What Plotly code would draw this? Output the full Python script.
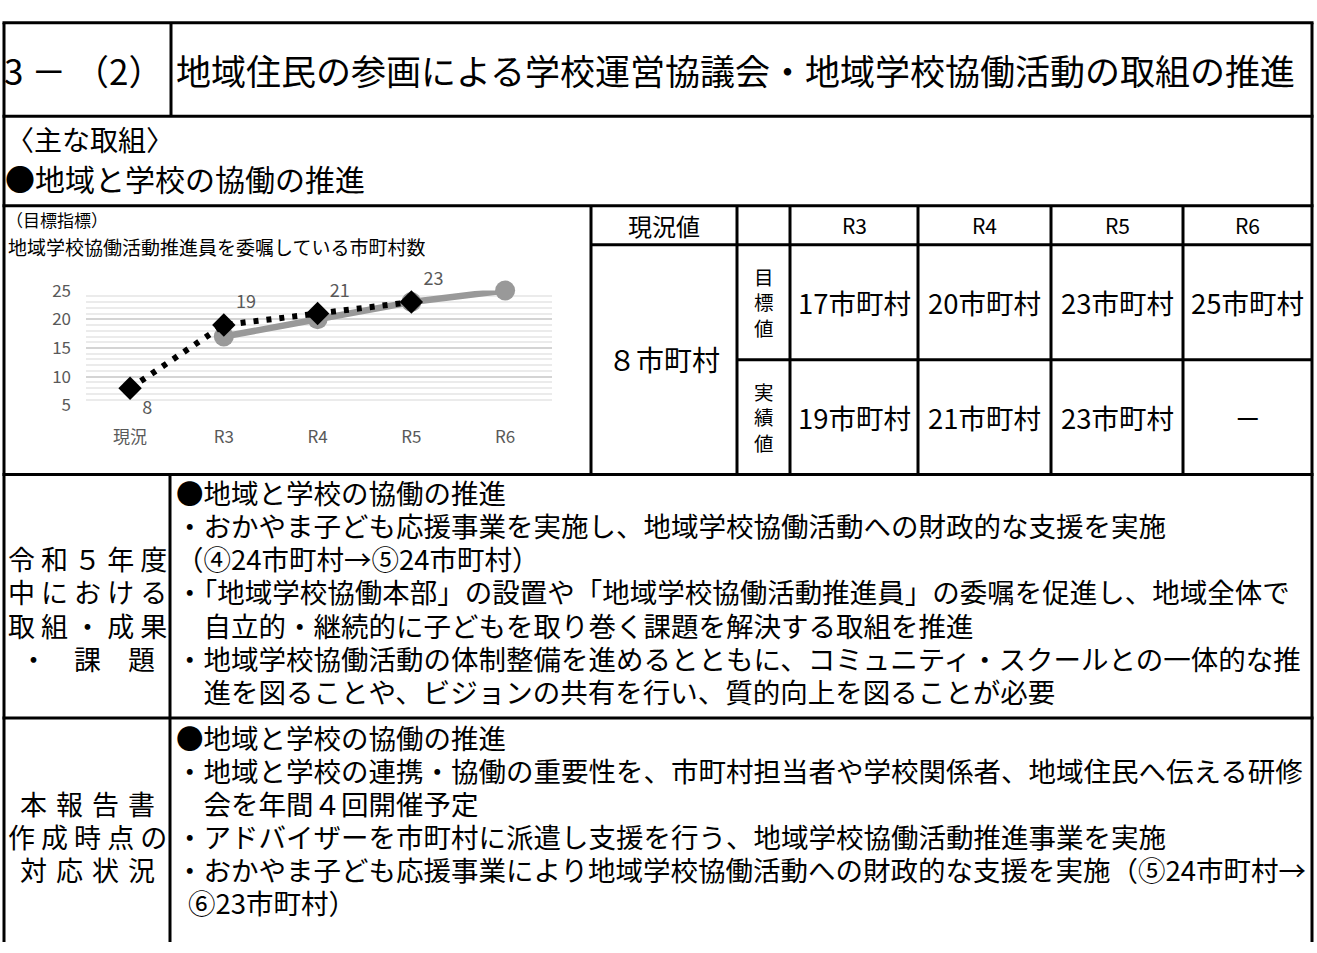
import plotly.graph_objects as go

# ---------------- data ----------------
categories = ["現況", "R3", "R4", "R5", "R6"]
target_values = [None, 17, 20, 23, 25]      # 目標値
actual_values = [8, 19, 21, 23, None]       # 実績値
label_positions = ["bottom right", "top right", "top right", "top right", None]
y_ticks = [5, 10, 15, 20, 25]
unit = "市町村"

title_num = "3 － （2）"
title_text = "地域住民の参画による学校運営協議会・地域学校協働活動の取組の推進"
main_head = "〈主な取組〉"
main_item = "●地域と学校の協働の推進"
chart_note = "（目標指標）"
chart_title = "地域学校協働活動推進員を委嘱している市町村数"

row4_label = ["令 和 ５ 年 度", "中 に お け る", "取 組 ・ 成 果", "・　課　題"]
row4_lines = [
    "●地域と学校の協働の推進",
    "・おかやま子ども応援事業を実施し、地域学校協働活動への財政的な支援を実施",
    "（④24市町村→⑤24市町村）",
    "・「地域学校協働本部」の設置や「地域学校協働活動推進員」の委嘱を促進し、地域全体で",
    "　自立的・継続的に子どもを取り巻く課題を解決する取組を推進",
    "・地域学校協働活動の体制整備を進めるとともに、コミュニティ・スクールとの一体的な推",
    "　進を図ることや、ビジョンの共有を行い、質的向上を図ることが必要",
]
row5_label = ["本\u2004報\u2004告\u2004書", "作 成 時 点 の", "対\u2004応\u2004状\u2004況"]
row5_lines = [
    "●地域と学校の協働の推進",
    "・地域と学校の連携・協働の重要性を、市町村担当者や学校関係者、地域住民へ伝える研修",
    "　会を年間４回開催予定",
    "・アドバイザーを市町村に派遣し支援を行う、地域学校協働活動推進事業を実施",
    "・おかやま子ども応援事業により地域学校協働活動への財政的な支援を実施（⑤24市町村→",
    "⑥23市町村）",
]

# ---------------- layout helpers ----------------
W, H = 1317, 953
FONT = "Noto Sans CJK JP"
fw = str.maketrans("0123456789", "０１２３４５６７８９")


def X(px):
    return px / W


def Y(py):
    return 1 - py / H


shapes = []
annotations = []


def line(x0, y0, x1, y1, w=3):
    shapes.append(dict(type="line", xref="paper", yref="paper",
                       x0=X(x0), y0=Y(y0), x1=X(x1), y1=Y(y1),
                       line=dict(color="black", width=w)))


def txt(s, x, y, size, anchor="left", color="black", height=None):
    a = dict(text=s, x=X(x), y=Y(y), xref="paper", yref="paper",
             xanchor=anchor, yanchor="middle", showarrow=False,
             font=dict(family=FONT, size=size, color=color))
    if height:
        a["height"] = height
        a["valign"] = "middle"
    annotations.append(a)


# borders
LEFT, RIGHT, TOP = 4, 1312, 9
for yy in [TOP, 105, 197, 473, 723]:
    line(LEFT - 1.5, yy, RIGHT + 1.5, yy)
line(LEFT, TOP, LEFT, H)
line(RIGHT, TOP, RIGHT, H)
line(171, TOP, 171, 105)
line(170, 473, 170, H)

col_x = [591, 737, 790, 918, 1051, 1183, RIGHT]
for cx in col_x[:-1]:
    line(cx, 197, cx, 473)
line(591, 237, RIGHT, 237)
line(737, 355, RIGHT, 355)

# title row
txt(title_num, 2, 57, 35)
txt(title_text, 174, 57, 35)

# row 2
txt(main_head, 4, 128, 28)
txt(main_item, 3, 168, 30)

# chart captions
txt(chart_note, 4, 211, 17, height=22)
txt(chart_title, 6, 238, 19, height=24)

# table header
txt("現況値", (591 + 737) / 2, 217, 24, "center")
for i, c in enumerate(categories[1:]):
    txt(c, (col_x[i + 2] + col_x[i + 3]) / 2, 217, 21, "center")
txt(str(actual_values[0]).translate(fw) + unit, (591 + 737) / 2, 354, 28, "center")
txt("目<br>標<br>値", (737 + 790) / 2, 296, 19.5, "center")
txt("実<br>績<br>値", (737 + 790) / 2, 414, 19.5, "center")
for i in range(4):
    cx = (col_x[i + 2] + col_x[i + 3]) / 2
    t = target_values[i + 1]
    a = actual_values[i + 1]
    txt(f"{t}{unit}", cx, 296, 27.5, "center")
    txt(f"{a}{unit}" if a is not None else "－", cx, 414, 27.5, "center")

# row 4 text
pitch = 34.0
BOX = 32
for i, s in enumerate(row4_lines):
    txt(s, 174, 491 + i * pitch, 27.5, height=BOX)
for i, s in enumerate(row4_label):
    txt(s, 87, 491 + (i + 2) * pitch, 27, "center", height=BOX)

# row 5 text
for i, s in enumerate(row5_lines):
    x0 = 186 if s.startswith("⑥") else 174
    txt(s, x0, 742 + i * pitch, 27.5, height=BOX)
for i, s in enumerate(row5_label):
    txt(s, 87, 742 + (i + 2) * pitch, 27, "center", height=BOX)

# ---------------- chart ----------------
fig = go.Figure()
fig.add_trace(go.Scatter(
    x=categories, y=target_values, mode="lines+markers", name="目標値",
    line=dict(color="#999999", width=6.5),
    marker=dict(symbol="circle", size=20, color="#999999"),
    cliponaxis=False, connectgaps=False, showlegend=False,
))
fig.add_trace(go.Scatter(
    x=categories, y=actual_values, mode="lines+markers+text", name="実績値",
    line=dict(color="black", width=6, dash="5px,8px"),
    marker=dict(symbol="diamond", size=18, color="black"),
    text=[str(v) if v is not None else "" for v in actual_values],
    textposition=[p if p else "top right" for p in label_positions],
    textfont=dict(family=FONT, size=18, color="#595959"),
    cliponaxis=False, showlegend=False,
))

fig.update_layout(
    width=W, height=H,
    margin=dict(l=0, r=0, t=0, b=0),
    paper_bgcolor="white", plot_bgcolor="white",
    shapes=shapes, annotations=annotations,
    xaxis=dict(domain=[X(86), X(552)], type="category", range=[-0.47, 4.5],
               showgrid=False, zeroline=False, showline=False, ticks="",
               tickfont=dict(family=FONT, size=17, color="#595959"),
               ticklabelstandoff=20, fixedrange=True),
    yaxis=dict(domain=[Y(402), Y(284)], range=[5, 25], tickvals=y_ticks,
               showgrid=True, gridcolor="#d4d4d4", gridwidth=2,
               minor=dict(dtick=1, showgrid=True, gridcolor="#ebebeb", gridwidth=1.5),
               zeroline=False, showline=False, ticks="",
               tickfont=dict(family=FONT, size=17, color="#595959"),
               ticklabelstandoff=14, fixedrange=True),
    font=dict(family=FONT),
)

fig.write_html(
    "out.html",
    config={"displayModeBar": False},
    post_script="document.body.style.margin='0';document.documentElement.style.overflow='hidden';",
)
